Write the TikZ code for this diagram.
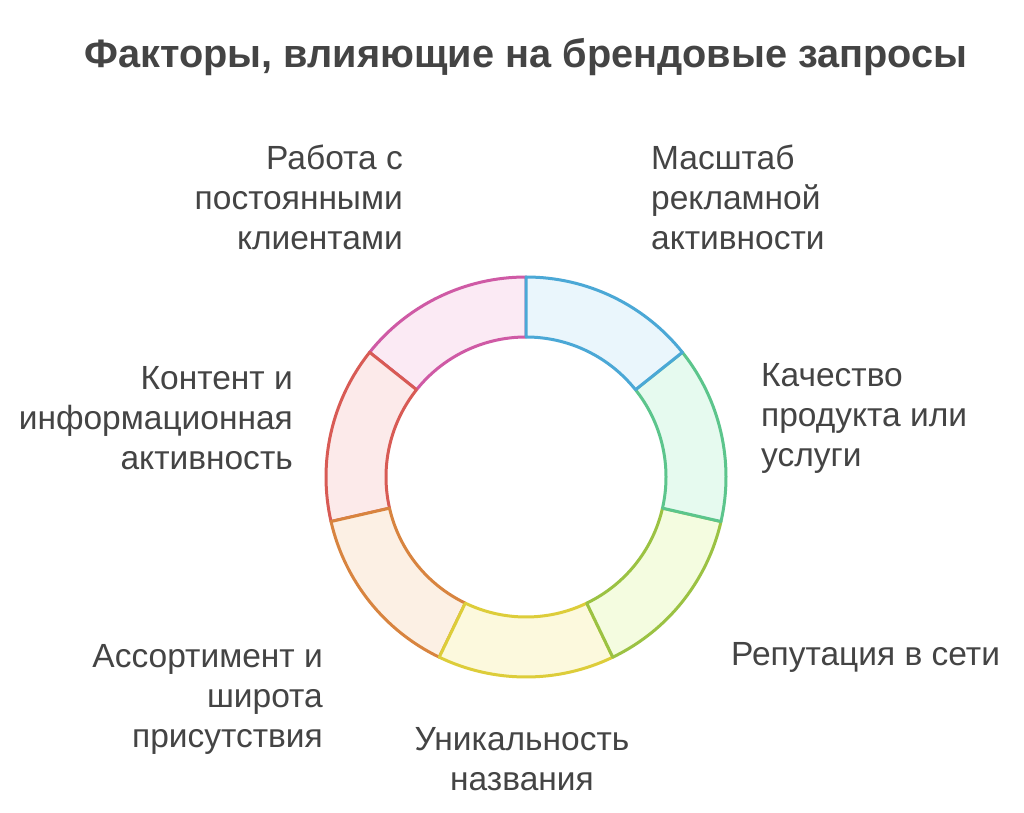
\documentclass[tikz,border=0pt]{standalone}
\usepackage{fontspec}
\setmainfont{Liberation Sans}
\definecolor{txt}{HTML}{444444}
\definecolor{bS}{HTML}{4BA8D6}\definecolor{bF}{HTML}{EAF6FC}
\definecolor{gS}{HTML}{5CC58C}\definecolor{gF}{HTML}{E6FAEF}
\definecolor{ygS}{HTML}{9BC243}\definecolor{ygF}{HTML}{F4FCE0}
\definecolor{yS}{HTML}{DDCD3A}\definecolor{yF}{HTML}{FCF9DD}
\definecolor{oS}{HTML}{D8843F}\definecolor{oF}{HTML}{FCF0E4}
\definecolor{rS}{HTML}{D85B55}\definecolor{rF}{HTML}{FCEAEA}
\definecolor{pS}{HTML}{CF5AA5}\definecolor{pF}{HTML}{FBEAF4}
\newcommand{\seg}[4]{%
  \draw[segstyle, draw=#3, fill=#4, shift={(526,335)}]
    (#1:200pt) arc[start angle=#1, end angle=#2, radius=200pt]
    -- (#2:140pt) arc[start angle=#2, end angle=#1, radius=140pt] -- cycle;}
\begin{document}
\begin{tikzpicture}[x=1pt,y=1pt,
  segstyle/.style={line width=3pt, line join=round},
  lbl/.style={text=txt, font=\fontsize{33.5}{40}\selectfont, inner sep=0pt},
  ttl/.style={text=txt, font=\bfseries\fontsize{39.7}{44}\selectfont, inner sep=0pt}]
\useasboundingbox (0,0) rectangle (1024,812);
\fill[white] (0,0) rectangle (1024,812);
% segments (draw order gives boundary colours)
\seg{141.43}{90}{pS}{pF}
\seg{192.86}{141.43}{rS}{rF}
\seg{244.29}{192.86}{oS}{oF}
\seg{295.71}{244.29}{yS}{yF}
\seg{347.14}{295.71}{ygS}{ygF}
\seg{398.57}{347.14}{gS}{gF}
\seg{450}{398.57}{bS}{bF}
% title
\node[ttl] (title) at (526,755) {Факторы, влияющие на брендовые запросы};
% labels
\node[lbl, anchor=east, align=right] (l1) at (403,615) {Работа с\\постоянными\\клиентами};
\node[lbl, anchor=west, align=left] (l2) at (651,615) {Масштаб\\рекламной\\активности};
\node[lbl, anchor=west, align=left] (l3) at (761,394) {Качество\\продукта или\\услуги};
\node[lbl, anchor=west, align=left] (l4) at (731,155) {Репутация в сети};
\node[lbl, anchor=center, align=center] (l5) at (522,53) {Уникальность\\названия};
\node[lbl, anchor=east, align=right] (l6) at (323,113) {Ассортимент и\\широта\\присутствия};
\node[lbl, anchor=east, align=right] (l7) at (293,394) {Контент и\\информационная\\активность};
\end{tikzpicture}
\end{document}
